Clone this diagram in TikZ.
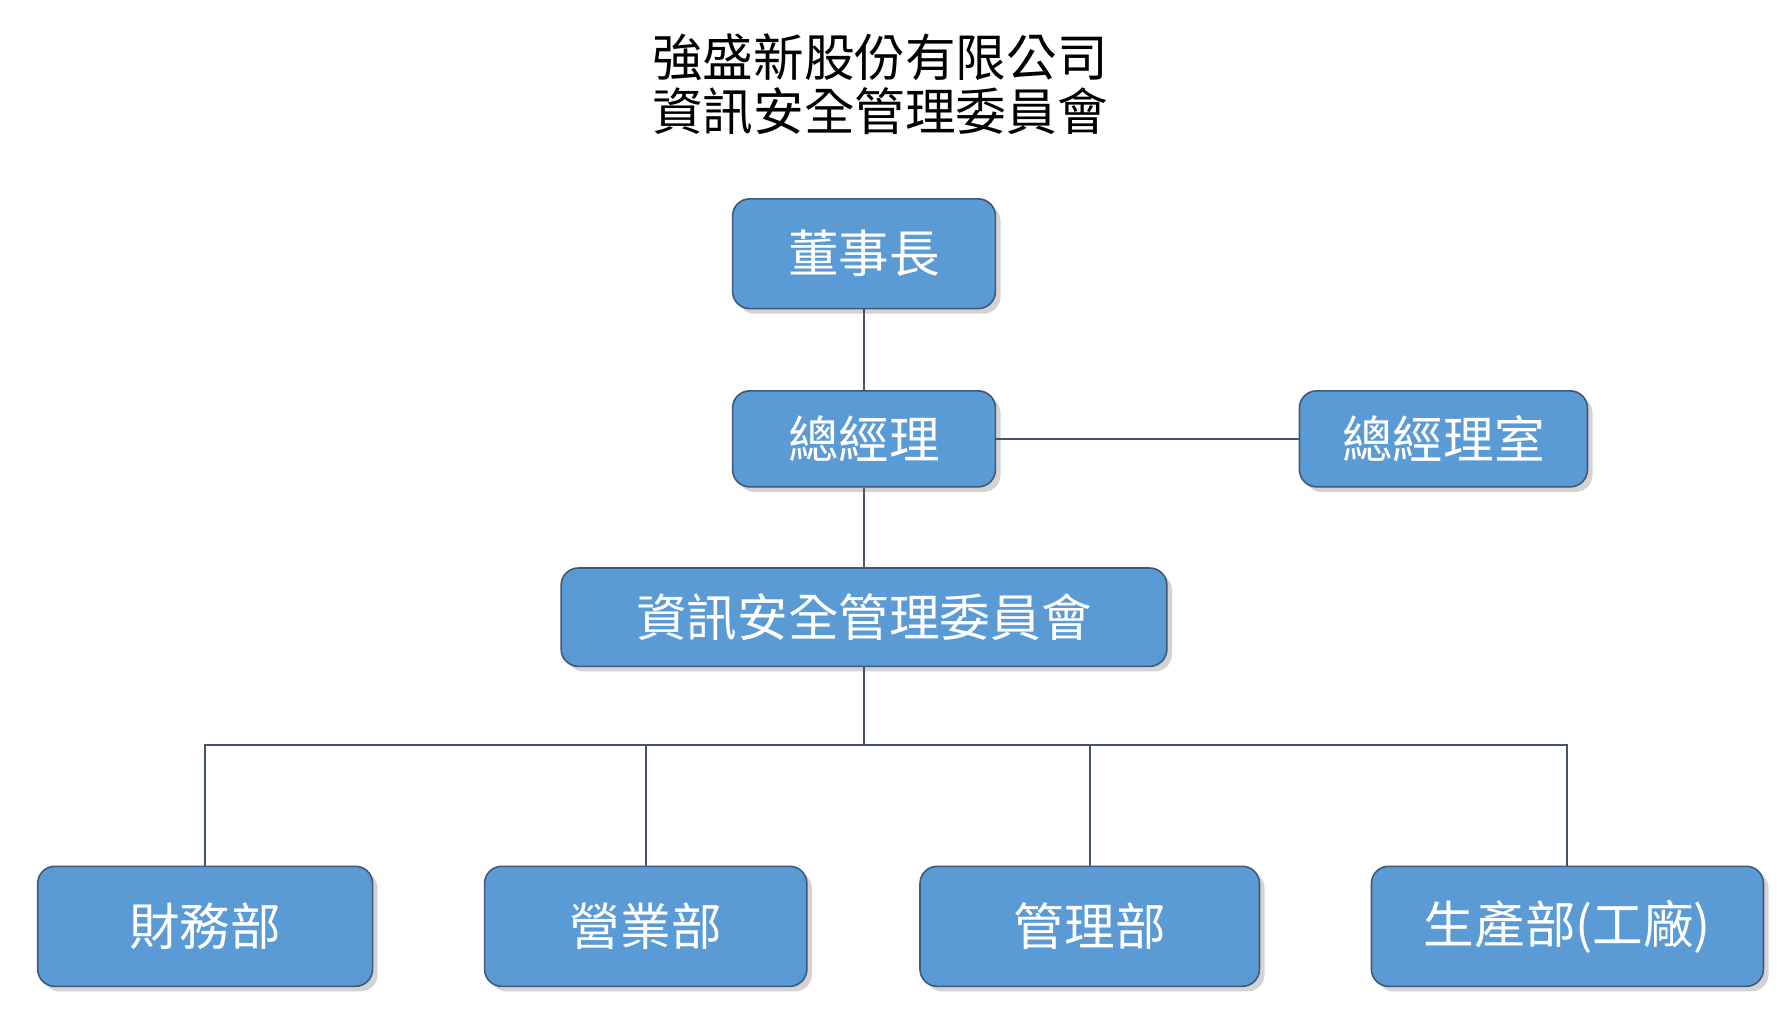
\documentclass[tikz,border=0pt]{standalone}
\usepackage{fontspec}
\setmainfont{Noto Sans CJK TC}
\usetikzlibrary{shapes}
\usetikzlibrary{shadows}
\usetikzlibrary{calc}
\definecolor{BoxBlue}{HTML}{5B9BD5}
\definecolor{BoxEdge}{HTML}{41587A}
\definecolor{LineGray}{HTML}{44546A}
\tikzstyle{OrgNode}=[rectangle, rounded corners=0.15cm, draw=BoxEdge, fill=BoxBlue, text=white, font=\fontsize{12.6}{14}\selectfont, drop shadow={shadow xshift=0.045cm, shadow yshift=-0.045cm, opacity=0.35}]
\tikzstyle{TopNode}=[OrgNode, minimum width=2.30cm, minimum height=0.96cm]
\tikzstyle{MidNode}=[OrgNode, minimum height=0.84cm]
\tikzstyle{DeptNode}=[OrgNode, minimum height=1.05cm]
\tikzstyle{OrgEdge}=[draw=LineGray, line width=0.5pt]
\begin{document}
\begin{tikzpicture}
\useasboundingbox (0,0) rectangle (15.68,9.02);
\node[align=center, font=\fontsize{12.6}{13.4}\selectfont](TITLE) at (7.70,8.285) {強盛新股份有限公司\\資訊安全管理委員會};
\node[TopNode](CHAIR) at (7.56,6.80) {董事長};
\node[MidNode, minimum width=2.30cm](GM) at (7.56,5.18) {總經理};
\node[MidNode, minimum width=2.52cm](GMO) at (12.63,5.18) {總經理室};
\node[MidNode, minimum width=5.30cm, minimum height=0.86cm](ISC) at (7.56,3.62) {資訊安全管理委員會};
\node[DeptNode, minimum width=2.93cm](FIN) at (1.795,0.915) {財務部};
\node[DeptNode, minimum width=2.82cm](SALES) at (5.65,0.915) {營業部};
\node[DeptNode, minimum width=2.97cm](ADMIN) at (9.535,0.915) {管理部};
\node[DeptNode, minimum width=3.43cm](PROD) at (13.715,0.915) {生產部(工廠)};
\coordinate(BUS) at (7.56,2.50);

\draw[OrgEdge](CHAIR) -- (GM);
\draw[OrgEdge](GM) -- (GMO);
\draw[OrgEdge](GM) -- (ISC);
\draw[OrgEdge](ISC) -- (BUS);
\draw[OrgEdge](BUS) -| (FIN);
\draw[OrgEdge](BUS) -| (SALES);
\draw[OrgEdge](BUS) -| (ADMIN);
\draw[OrgEdge](BUS) -| (PROD);
\end{tikzpicture}
\end{document}
